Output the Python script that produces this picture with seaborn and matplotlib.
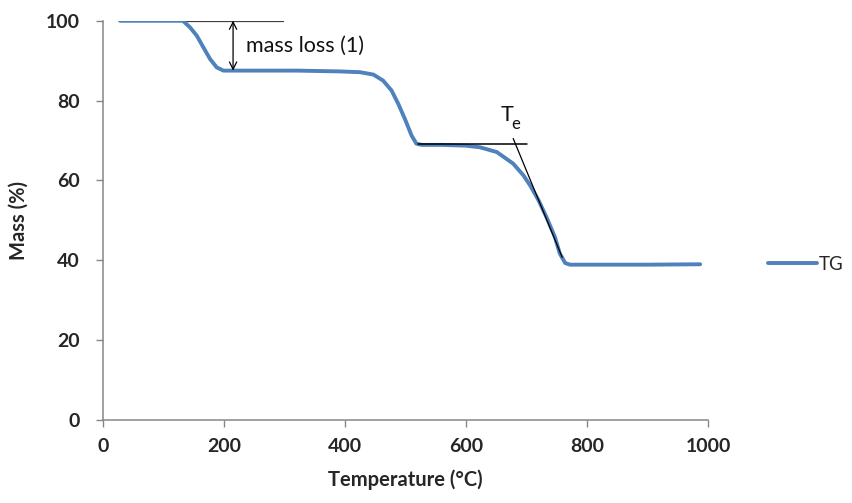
import matplotlib
matplotlib.use("Agg")
import matplotlib.pyplot as plt
import seaborn as sns
import pandas as pd

# Temperature (°C) and mass (%)
temperature = [28, 60, 100, 132, 144, 155, 166, 177, 188, 199, 215, 260, 320, 392, 425,
               447, 463, 477, 488, 499, 510, 518, 527, 560, 600, 623, 651, 678, 695,
               706, 720, 733, 747, 755, 764, 772, 800, 900, 987]
mass = [100, 100, 100, 100, 98.3, 96.25, 93.3, 90.4, 88.3, 87.5, 87.5, 87.5, 87.5, 87.3, 87.1,
        86.5, 85, 82.5, 79.2, 75.4, 71.25, 69.2, 68.9, 68.9, 68.7, 68.3, 67.1, 64.2, 61.25,
        58.75, 55, 50.8, 45.8, 41.7, 39.3, 38.9, 38.9, 38.9, 39.0]
series_name = "TG"

# annotation values
ref_line_x = [28, 298]
ref_line_y = [100, 100]
arrow_x = 215
arrow_y = [100, 87.5]
mass_loss_label = "mass loss (1)"
te_hline_x = [521, 701]
te_hline_y = [69.2, 69.2]
tangent_x = [678, 759]
tangent_y = [70.5, 40.75]
te_label = "T"
te_sub = "e"

xticks = [0, 200, 400, 600, 800, 1000]
yticks = [0, 20, 40, 60, 80, 100]

sns.set_theme(style="white")
plt.rcParams['font.family'] = ['Lato', 'DejaVu Sans']

fig = plt.figure(figsize=(8.53, 5.03), dpi=100)
ax = fig.add_axes([103/853, 1-420/503, (708-103)/853, (420-20.7)/503])

df = pd.DataFrame({"Temperature": temperature, "Mass": mass, "series": series_name})
sns.lineplot(data=df, x="Temperature", y="Mass", hue="series", palette=["#4F81BD"],
             sort=False, linewidth=2.8, ax=ax, zorder=3)

ax.plot(ref_line_x, ref_line_y, color="#404040", lw=0.9, zorder=2)
ax.plot(te_hline_x, te_hline_y, color="black", lw=1.1, zorder=4)
ax.plot(tangent_x, tangent_y, color="black", lw=0.9, zorder=4)
ax.annotate("", xy=(arrow_x, arrow_y[1]), xytext=(arrow_x, arrow_y[0]),
            arrowprops=dict(arrowstyle="<->", color="black", lw=0.9,
                            shrinkA=0, shrinkB=0, mutation_scale=13))
ax.text(237, 93.6, mass_loss_label, fontsize=15.5, va="center", ha="left", color="#111111")
ax.text(667, 76.3, te_label, fontsize=15.5, va="center", ha="center", color="#111111")
ax.text(675, 74.2, te_sub, fontsize=12, va="center", ha="left", color="#111111")

ax.set_xlim(0, 1000)
ax.set_ylim(0, 100)
ax.set_xticks(xticks)
ax.set_yticks(yticks)
ax.set_xticklabels([str(v) for v in xticks], fontsize=14, fontweight="bold")
ax.set_yticklabels([str(v) for v in yticks], fontsize=14, fontweight="bold")
ax.tick_params(axis="both", direction="out", length=5, width=1, color="#868686",
               bottom=True, left=True)
ax.tick_params(axis="x", pad=8)
ax.tick_params(axis="y", pad=12)

for side in ["top", "right"]:
    ax.spines[side].set_visible(False)
for side in ["left", "bottom"]:
    ax.spines[side].set_color("#868686")
    ax.spines[side].set_linewidth(1.1)

ax.set_xlabel("Temperature (\u00b0C)", fontsize=14.5, fontweight="bold", labelpad=10)
ax.set_ylabel("Mass (%)", fontsize=14.5, fontweight="bold", labelpad=12)

leg = ax.legend(loc="center left", bbox_to_anchor=(1.099, 0.39), frameon=False,
                fontsize=13.5, handlelength=2.6, handletextpad=0.1,
                borderaxespad=0.0, borderpad=0.0)
for line in leg.get_lines():
    line.set_linewidth(2.8)

fig.savefig("out.png", dpi=100)
